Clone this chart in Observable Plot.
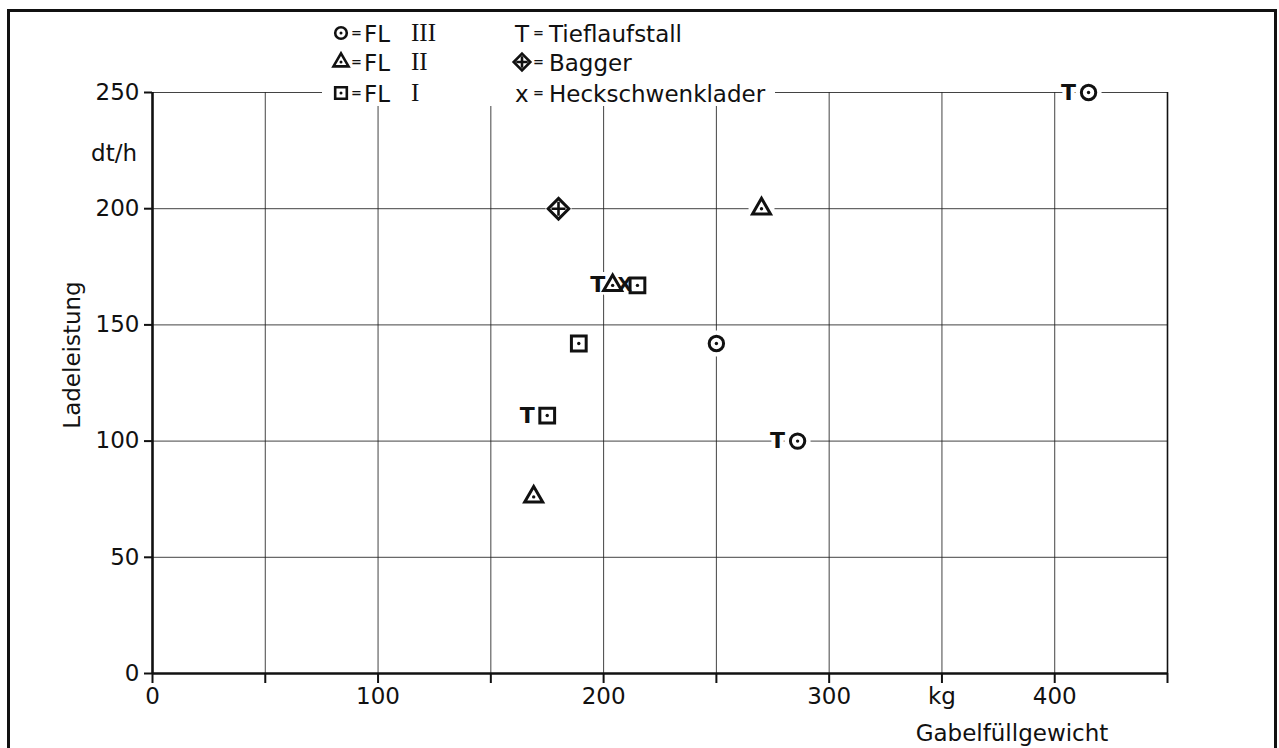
<!DOCTYPE html>
<html><head><meta charset="utf-8">
<script src="https://cdn.jsdelivr.net/npm/d3@7"></script>
<script src="https://cdn.jsdelivr.net/npm/@observablehq/plot@0.6"></script>
<style>
html,body{margin:0;padding:0;background:#fff;}
#wrap{position:relative;width:1279px;height:748px;overflow:hidden;font-family:"DejaVu Sans",sans-serif;color:#111;background:#fff;}
#wrap > svg{position:absolute;left:0;top:0;}
.frame{position:absolute;left:7px;top:9px;width:1270px;height:800px;border:3.5px solid #111;box-sizing:border-box;}
.lbl{position:absolute;font-size:23px;line-height:28px;white-space:nowrap;}
.eq{position:absolute;font-size:13px;line-height:28px;font-weight:bold;}
.roman{position:absolute;font-family:"Liberation Serif",serif;font-size:25px;line-height:28px;}
#legend{position:absolute;left:322px;top:14px;width:453px;height:92px;background:#fff;}
</style></head>
<body><div id="wrap"></div>
<script>
// ---- data ----
const machine  = ["Bagger","FL II","FL II","FL I","FL I","FL III","FL I","FL II","FL III","FL III","Heckschwenklader"];
const gabel    = [180, 270, 204, 215, 189, 250, 175, 169, 286, 415, 209];   // kg
const leistung = [200, 200, 167, 167, 142, 142, 111,  76, 100, 250, 167];   // dt/h
const tief     = [false,false,true,false,false,false,true,false,true,true,false]; // T = Tieflaufstall

const xTicks = [0,50,100,150,200,250,300,350,400,450];
const xTickLabels = ["0","","100","","200","","300","kg","400",""];
const yTicks = [0,50,100,150,200,250];

const legendLeft  = [["circle","FL","III"],["triangle2","FL","II"],["square2","FL","I"]];
const legendRight = [["T","Tieflaufstall"],["diamond","Bagger"],["x","Heckschwenklader"]];

const data = machine.map((m,i)=>({m, x:gabel[i], y:leistung[i], t:tief[i]}));
const xLab = new Map(xTicks.map((v,i)=>[v,xTickLabels[i]]));
const ink = "#111";
const sym = {stroke:ink, strokeWidth:3, fill:"white"};
const of = m => data.filter(d=>d.m===m);

const chart = Plot.plot({
  width:1279, height:748,
  marginLeft:152, marginRight:112, marginTop:92, marginBottom:75,
  x:{domain:[0,450]}, y:{domain:[0,250]},
  style:{fontFamily:"DejaVu Sans, sans-serif", fontSize:"23px", color:ink, background:"transparent"},
  marks:[
    Plot.gridX({ticks:[50,100,150,200,250,300,350,400], stroke:"#222", strokeOpacity:0.85, strokeWidth:1}),
    Plot.gridY({ticks:[50,100,150,200,250], stroke:"#222", strokeOpacity:0.85, strokeWidth:1}),
    Plot.ruleX([450], {stroke:ink, strokeWidth:1.6}),
    Plot.ruleX([0], {stroke:ink, strokeWidth:2.6}),
    Plot.ruleY([0], {stroke:ink, strokeWidth:2.6}),
    Plot.axisX({ticks:xTicks, tickFormat:d=>xLab.get(d), tickSize:10, tickPadding:4, fontSize:23, stroke:ink, strokeWidth:2, label:null}),
    Plot.axisY({ticks:yTicks, tickSize:8, tickPadding:5, fontSize:23, stroke:ink, strokeWidth:2, label:null}),
    // white halos breaking the grid lines behind the symbols
    Plot.dot(data, {x:"x", y:"y", r:13, fill:"white"}),
    Plot.text(data.filter(d=>d.t && d.m!=="FL II"), {x:"x", y:"y", text:()=>"T", dx:-20, fontSize:22, fontWeight:"bold", fill:ink, stroke:"white", strokeWidth:8, paintOrder:"stroke"}),
    Plot.text(data.filter(d=>d.t && d.m==="FL II"), {x:"x", y:"y", text:()=>"T", dx:-15, fontSize:22, fontWeight:"bold", fill:ink, stroke:"white", strokeWidth:8, paintOrder:"stroke"}),
    Plot.dot(of("FL III"), {x:"x", y:"y", symbol:"circle", r:7.2, ...sym}),
    Plot.dot(of("FL II"), {x:"x", y:"y", symbol:"triangle2", r:8.6, ...sym}),
    Plot.dot(of("FL I"), {x:"x", y:"y", symbol:"square2", r:9.4, ...sym}),
    Plot.dot(of("Bagger"), {x:"x", y:"y", symbol:"diamond2", r:9.3, ...sym}),
    Plot.dot(of("Bagger"), {x:"x", y:"y", symbol:"plus", r:4.6, stroke:ink, strokeWidth:2.6}),
    Plot.text(of("Heckschwenklader"), {x:"x", y:"y", text:()=>"X", dx:1, fontSize:19, fontWeight:"bold", fill:ink}),
    Plot.dot(data.filter(d=>d.m.startsWith("FL")), {x:"x", y:"y", r:1.7, fill:ink})
  ]
});

const wrap = document.getElementById("wrap");
wrap.appendChild(chart);

function add(cls, html, css){
  const e = document.createElement("div");
  e.className = cls; e.innerHTML = html;
  Object.assign(e.style, css);
  wrap.appendChild(e);
  return e;
}
function icon(type, cx, cy){
  const s = d3.create("svg").attr("width",24).attr("height",24).attr("viewBox","-12 -12 24 24")
    .style("position","absolute").style("left",(cx-12)+"px").style("top",(cy-12)+"px");
  const g = s.append("g").attr("fill","white").attr("stroke",ink).attr("stroke-width",2.6);
  if (type==="diamond"){
    g.append("path").attr("d", d3.symbol(d3.symbolDiamond2, Math.PI*7.5*7.5)());
    g.append("path").attr("d", d3.symbol(d3.symbolPlus, Math.PI*3.8*3.8)()).attr("fill","none");
  } else {
    const t = {circle:d3.symbolCircle, triangle2:d3.symbolTriangle2, square2:d3.symbolSquare2}[type];
    const r = {circle:5.8, triangle2:7.2, square2:7.4}[type];
    g.append("path").attr("d", d3.symbol(t, Math.PI*r*r)());
    s.append("circle").attr("r",1.5).attr("fill",ink);
  }
  wrap.appendChild(s.node());
}

add("frame","",{});
add("", "", {}).id = "legend";
const rows = [33, 62, 93];
legendLeft.forEach((r,i)=>{
  const cy = rows[i], top = (cy-13.5)+"px";
  icon(r[0], 341, cy);
  add("eq","=",{left:"351px", top:(cy-14)+"px"});
  add("lbl", r[1], {left:"364px", top});
  add("roman", r[2], {left:"411px", top:(cy-14.5)+"px"});
});
legendRight.forEach((r,i)=>{
  const cy = rows[i], top = (cy-13.5)+"px";
  if (r[0]==="diamond") icon("diamond", 522, cy);
  else add("lbl", r[0], {left:"515px", top});
  add("eq","=",{left:"533px", top:(cy-14)+"px"});
  add("lbl", r[1], {left:"549px", top});
});

add("lbl","dt/h",{left:"60px", width:"77px", textAlign:"right", top:(152-13.5)+"px"});
add("lbl","Ladeleistung",{left:"72px", top:"355px", transform:"translate(-50%,-50%) rotate(-90deg)"});
add("lbl","Gabelfüllgewicht",{left:"1012px", top:(732-13.5)+"px", transform:"translateX(-50%)"});
</script>
</body></html>
